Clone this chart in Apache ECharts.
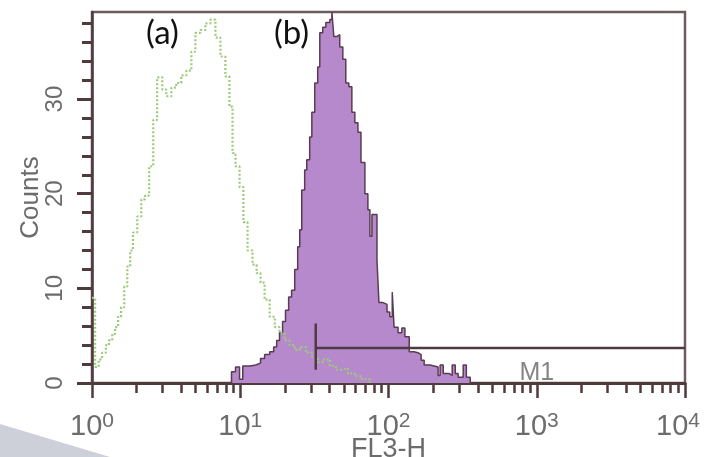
<!DOCTYPE html>
<html>
<head>
<meta charset="utf-8">
<title>FL3-H histogram</title>
<script src="https://cdn.jsdelivr.net/npm/echarts@6/dist/echarts.min.js"></script>
<style>
  html, body { margin: 0; padding: 0; background: #fff; }
  #main { width: 704px; height: 457px; }
</style>
</head>
<body>
<div id="main"></div>
<script>
// (b) stained cells, filled histogram: left edge of each bin (FL3-H) and its count
var bEdges = [8.2, 8.73, 9.29, 9.89, 10.4, 11.6, 12.7, 13.7, 14.6, 15.8, 16.8, 17.6, 18.4, 19.3, 20.2, 21.2,
  22.2, 23.3, 24.4, 25.2, 26.0, 27.2, 28.1, 29.4, 30.4, 31.8, 33.3, 34.4, 36.0, 37.8, 40.2, 41.5, 42.8,
  44.8, 46.9, 49.2, 51.5, 54.0, 56.6, 59.3, 62.2, 65.2, 69.3, 72.6, 74.9, 77.3, 81.0, 83.6, 86.2, 91.8,
  97.7, 102, 106, 109, 116, 123, 129, 138, 149, 158, 166, 174, 191, 216, 223, 234, 257, 269, 282, 295,
  319, 335, 356];
var bCounts = [0, 1.2, 1.7, 0.4, 1.8, 1.9, 2.1, 2.6, 3.0, 3.3, 3.8, 4.5, 5.3, 6.5, 7.7, 9.1,
  9.8, 12.0, 14.4, 16.2, 20.4, 22.5, 23.6, 26.0, 28.6, 31.7, 33.4, 37.0, 37.6, 38.1, 38.4, 39.2, 36.6,
  36.8, 35.5, 34.2, 31.7, 31.3, 28.6, 27.5, 26.5, 23.3, 20.0, 18.3, 15.5, 17.8, 17.8, 13.0, 8.5, 8.3,
  7.5, 7.0, 9.6, 5.9, 5.3, 5.8, 4.9, 3.3, 3.2, 3.0, 2.4, 1.9, 1.7, 0.8, 1.9, 1.0, 0.8, 1.9, 1.0, 0.6,
  1.9, 0.6, 0];

// (a) control, dotted outline
var aEdges = [1.00, 1.05, 1.11, 1.17, 1.24, 1.30, 1.37, 1.43, 1.50, 1.57, 1.65, 1.73, 1.81, 1.89, 2.02,
  2.15, 2.28, 2.43, 2.59, 2.75, 2.98, 3.17, 3.43, 3.70, 4.00, 4.33, 4.68, 4.98, 5.38, 5.82, 6.29, 6.80,
  7.35, 7.94, 8.45, 8.87, 9.29, 9.89, 10.5, 11.2, 12.1, 12.9, 13.7, 14.6, 15.8, 17.1, 18.4, 19.9, 21.5,
  23.3, 25.2, 27.7, 30.4, 33.3, 36.6, 40.2, 44.2, 48.5, 53.2, 59.3, 66.2, 74.9];
var aCounts = [9.0, 1.7, 2.5, 3.2, 4.0, 4.5, 5.2, 5.9, 7.0, 8.0, 10.2, 12.3, 14.0, 15.9, 17.6,
  19.4, 19.8, 22.9, 27.8, 32.3, 31.0, 30.3, 31.2, 31.7, 32.5, 33.0, 35.0, 37.0, 37.3, 38.0, 38.4, 36.5,
  34.5, 32.4, 29.2, 24.3, 22.9, 20.7, 17.0, 14.0, 12.5, 11.6, 10.6, 8.8, 7.0, 5.9, 5.3, 4.5, 4.0,
  3.5, 3.8, 3.2, 2.8, 2.2, 2.5, 1.8, 1.4, 1.6, 1.0, 0.7, 0.4, 0];

var xMajorTicks = [1, 10, 100, 1000, 10000];
var xMinorTicks = [2, 3, 4, 5, 6, 7, 8, 9, 20, 30, 40, 50, 60, 70, 80, 90,
  200, 300, 400, 500, 600, 700, 800, 900, 2000, 3000, 4000, 5000, 6000, 7000, 8000, 9000];
var yMajorTicks = [0, 10, 20, 30];
var yMinorTicks = [0, 2, 4, 6, 8, 10, 12, 14, 16, 18, 20, 22, 24, 26, 28, 30, 32, 34, 36, 38];

// marker M1
var m1Range = [32.3, 10000];
var m1Level = 3.7;
var m1Cap = [1.4, 6.3];
var m1LabelAt = [1000, 1.05];

function pairs(xs, ys) {
  return xs.map(function (x, i) { return [x, ys[i]]; });
}

var axisDark = '#4f3a3d';
var labelGray = '#6c6c6c';
var font = 'Liberation Sans';

var chart = echarts.init(document.getElementById('main'));
chart.setOption({
  backgroundColor: '#ffffff',
  animation: false,
  grid: {
    left: 92, right: 19, top: 12, bottom: 74,
    containLabel: false, outerBoundsMode: 'none',
    show: true, borderColor: '#6e5b5d', borderWidth: 2.5
  },
  xAxis: [{
    type: 'log', logBase: 10, min: 1, max: 10000, position: 'bottom',
    name: 'FL3-H', nameLocation: 'middle', nameGap: 53, nameMoveOverlap: false,
    nameTextStyle: { fontFamily: font, fontSize: 27, color: labelGray },
    axisLine: { show: true, lineStyle: { color: axisDark, width: 3 } },
    axisTick: { show: true, inside: false, length: 15, customValues: xMajorTicks,
      lineStyle: { color: axisDark, width: 2.5 } },
    axisLabel: {
      customValues: xMajorTicks, margin: 28, fontFamily: font, fontSize: 29, color: labelGray,
      lineHeight: 32,
      formatter: function (v) {
        var p = Math.round(Math.log10(v));
        return v >= 10000 ? '10{e|' + p + '}' : '10{s|' + p + '}';
      },
      rich: {
        s: { fontFamily: font, fontSize: 21, lineHeight: 14, color: labelGray, verticalAlign: 'top' },
        e: { fontFamily: font, fontSize: 21, lineHeight: 14, color: labelGray, verticalAlign: 'top',
          padding: [0, 14, 0, 0] }
      }
    },
    splitLine: { show: false }
  }, {
    type: 'log', logBase: 10, min: 1, max: 10000, position: 'bottom',
    axisLine: { show: false },
    axisTick: { show: true, inside: false, length: 10, customValues: xMinorTicks,
      lineStyle: { color: axisDark, width: 2.5 } },
    axisLabel: { show: false },
    splitLine: { show: false }
  }],
  yAxis: [{
    type: 'value', min: 0, max: 39.2, position: 'left',
    name: 'Counts', nameLocation: 'middle', nameRotate: 90, nameGap: 48, nameMoveOverlap: false,
    nameTextStyle: { fontFamily: font, fontSize: 26, color: labelGray },
    axisLine: { show: true, onZero: false, lineStyle: { color: axisDark, width: 2.5 } },
    axisTick: { show: true, inside: false, length: 15, customValues: yMajorTicks,
      lineStyle: { color: axisDark, width: 3 } },
    axisLabel: { customValues: yMajorTicks, rotate: 90, margin: 25, fontFamily: font, fontSize: 24, color: labelGray },
    splitLine: { show: false }
  }, {
    type: 'value', min: 0, max: 39.2, position: 'left',
    axisLine: { show: false },
    axisTick: { show: true, inside: false, length: 10, customValues: yMinorTicks,
      lineStyle: { color: axisDark, width: 3 } },
    axisLabel: { show: false },
    splitLine: { show: false }
  }],
  series: [{
    name: '(b)', type: 'line', step: 'end', symbol: 'none',
    data: pairs(bEdges, bCounts),
    lineStyle: { color: '#5b3b52', width: 1.5 },
    areaStyle: { color: '#b589cb', opacity: 1 },
    z: 2
  }, {
    name: '(a)', type: 'line', step: 'end', symbol: 'none',
    data: pairs(aEdges, aCounts),
    lineStyle: { color: '#9cca7a', width: 2.2, type: [2, 2] },
    z: 3
  }, {
    name: 'M1', type: 'line', symbol: 'none',
    data: [[m1Range[0], m1Level], [m1Range[1], m1Level]],
    lineStyle: { color: '#4e3a42', width: 2.5 },
    z: 4
  }, {
    name: 'M1 cap', type: 'line', symbol: 'none',
    data: [[m1Range[0], m1Cap[0]], [m1Range[0], m1Cap[1]]],
    lineStyle: { color: '#4e3a42', width: 2.5 },
    z: 4
  }, {
    name: 'M1 label', type: 'scatter', symbolSize: 0,
    data: [m1LabelAt],
    label: { show: true, position: 'inside', formatter: 'M1',
      fontFamily: font, fontSize: 25, color: '#666' },
    z: 5
  }],
  graphic: [{
    type: 'text', left: 146, top: 17,
    style: { text: '(a)', fontFamily: 'Lato', fontSize: 33, fill: '#111' }
  }, {
    type: 'text', left: 274, top: 17,
    style: { text: '(b)', fontFamily: 'Lato', fontSize: 33, fill: '#111' }
  }, {
    type: 'polygon', silent: true,
    shape: { points: [[0, 424], [110, 457], [0, 457]] },
    style: { fill: '#cdd0d9' }
  }]
});
</script>
</body>
</html>
